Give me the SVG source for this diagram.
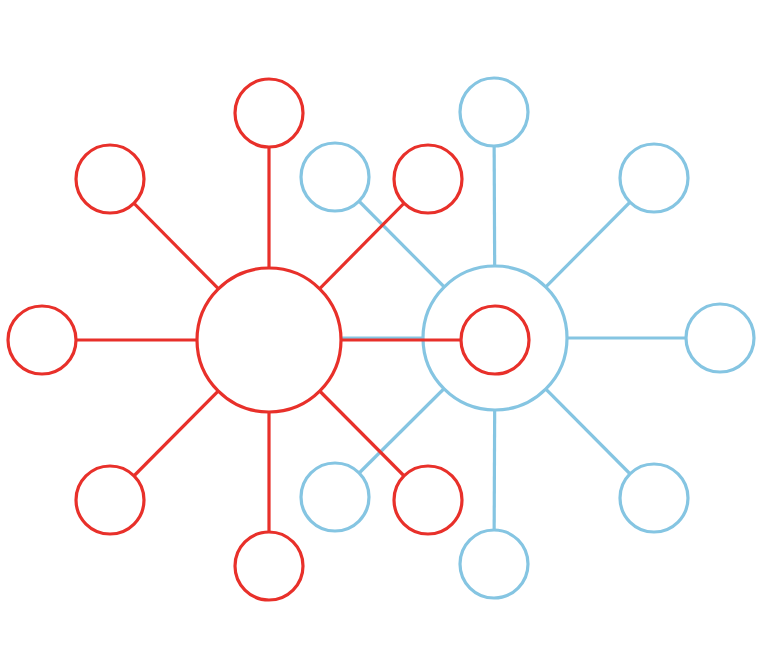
<svg xmlns="http://www.w3.org/2000/svg" width="768" height="651" viewBox="0 0 768 651">
<style>
.b{stroke:#85c5e2;stroke-width:3.2;fill:#fff}
.r{stroke:#e8302a;stroke-width:3.2;fill:#fff}
.bl{stroke:#85c5e2;stroke-width:3.2}
.rl{stroke:#e8302a;stroke-width:3.2}
</style>
<rect width="768" height="651" fill="#fff"/>
<g id="connectors-blue">
<line class="bl" x1="495" y1="338" x2="494" y2="112"/>
<line class="bl" x1="495" y1="338" x2="335" y2="177"/>
<line class="bl" x1="495" y1="338" x2="654" y2="178"/>
<line class="bl" x1="495" y1="338" x2="720" y2="338"/>
<line class="bl" x1="495" y1="338" x2="335" y2="497"/>
<line class="bl" x1="495" y1="338" x2="654" y2="498"/>
<line class="bl" x1="495" y1="338" x2="494" y2="564"/>
<line class="bl" x1="495" y1="338" x2="269" y2="338"/>
</g>
<g id="blue-nodes">
<circle id="blue-hub" class="b" cx="495" cy="338" r="72"/>
<circle id="b1" class="b" cx="494" cy="112" r="34"/>
<circle id="b2" class="b" cx="335" cy="177" r="34"/>
<circle id="b3" class="b" cx="654" cy="178" r="34"/>
<circle id="b4" class="b" cx="720" cy="338" r="34"/>
<circle id="b5" class="b" cx="335" cy="497" r="34"/>
<circle id="b6" class="b" cx="654" cy="498" r="34"/>
<circle id="b7" class="b" cx="494" cy="564" r="34"/>
</g>
<g id="connectors-red">
<line class="rl" x1="269" y1="340" x2="269" y2="113"/>
<line class="rl" x1="269" y1="340" x2="110" y2="179"/>
<line class="rl" x1="269" y1="340" x2="428" y2="179"/>
<line class="rl" x1="269" y1="340" x2="42" y2="340"/>
<line class="rl" x1="269" y1="340" x2="495" y2="340"/>
<line class="rl" x1="269" y1="340" x2="110" y2="500"/>
<line class="rl" x1="269" y1="340" x2="428" y2="500"/>
<line class="rl" x1="269" y1="340" x2="269" y2="566"/>
</g>
<g id="red-nodes">
<circle id="red-hub" class="r" cx="269" cy="340" r="72"/>
<circle id="r1" class="r" cx="269" cy="113" r="34"/>
<circle id="r2" class="r" cx="110" cy="179" r="34"/>
<circle id="r3" class="r" cx="428" cy="179" r="34"/>
<circle id="r4" class="r" cx="42" cy="340" r="34"/>
<circle id="r5" class="r" cx="495" cy="340" r="34"/>
<circle id="r6" class="r" cx="110" cy="500" r="34"/>
<circle id="r7" class="r" cx="428" cy="500" r="34"/>
<circle id="r8" class="r" cx="269" cy="566" r="34"/>
</g>
</svg>
